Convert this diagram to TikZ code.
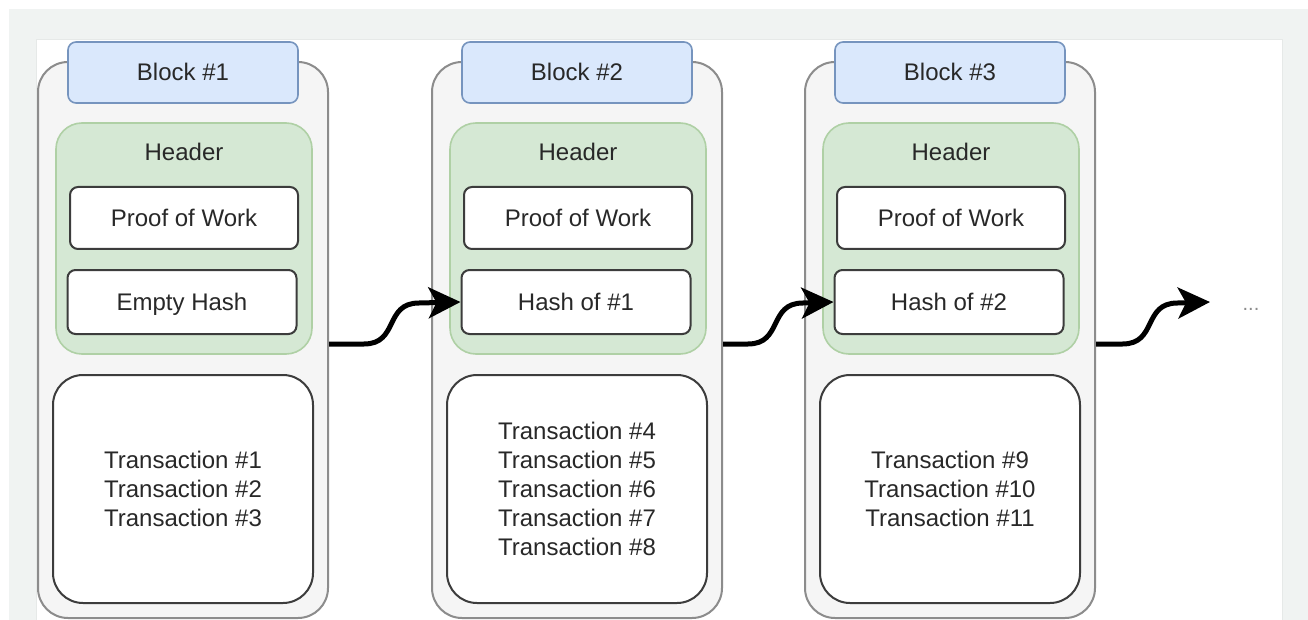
\documentclass[tikz,border=0pt]{standalone}
\usepackage{fontspec}
\setmainfont{Liberation Sans}
\usetikzlibrary{arrows.meta,calc}
\definecolor{bgg}{RGB}{240,243,242}
\definecolor{cardline}{RGB}{230,233,232}
\definecolor{outf}{RGB}{245,245,245}
\definecolor{outd}{RGB}{140,140,140}
\definecolor{blf}{RGB}{218,232,252}
\definecolor{bld}{RGB}{118,148,190}
\definecolor{grf}{RGB}{213,232,212}
\definecolor{grd}{RGB}{175,208,165}
\definecolor{txtc}{RGB}{40,40,40}
\definecolor{boxd}{RGB}{60,60,60}
\definecolor{dotc}{RGB}{140,140,140}
\tikzset{
  base/.style={font=\fontsize{24}{29}\selectfont, text=txtc, inner sep=0pt},
  oneline/.style={text height=17pt, text depth=0pt},
  outerbox/.style={base, draw=outd, fill=outf, line width=2pt, rounded corners=30pt},
  labelbox/.style={base, oneline, draw=bld, fill=blf, line width=1.6pt, rounded corners=8pt},
  headbox/.style={base, draw=grd, fill=grf, line width=1.6pt, rounded corners=26pt},
  fieldbox/.style={base, oneline, draw=boxd, fill=white, line width=2pt, rounded corners=8pt},
  txbox/.style={base, draw=boxd, fill=white, line width=2pt, rounded corners=30pt, align=center},
  plain/.style={base, oneline},
  arr/.style={line width=5pt, -{Stealth[length=32pt,width=31pt,inset=8pt]}},
}
\newcommand\drawblock[5]{%
  \node[outerbox, minimum width=290pt, minimum height=556pt] (o#2) at (#1+145,340) {};
  \node[headbox, minimum width=256pt, minimum height=231pt] (hb#2) at (#1+146,238.5) {};
  \node[labelbox, minimum width=230pt, minimum height=61pt] (l#2) at (#1+145,72.5) {#3};
  \node[plain] (ht#2) at (#1+146,152) {Header};
  \node[fieldbox, minimum width=228pt, minimum height=62pt] (p#2) at (#1+146,218) {Proof of Work};
  \node[fieldbox, minimum width=229pt, minimum height=64pt] (h#2) at (#1+144,302) {#4};
  \node[txbox, minimum width=260pt, minimum height=228pt] (t#2) at (#1+145,489) {#5};
}
\begin{document}
\begin{tikzpicture}[x=1pt,y=-1pt]
  \useasboundingbox (0,0) rectangle (1308,620);
  \fill[white] (0,0) rectangle (1308,620);
  \fill[bgg] (9,9) rectangle (1308,620);
  \filldraw[fill=white, draw=cardline, line width=1pt] (36,40) rectangle (1282,625);
  \drawblock{38}{1}{Block \#1}{Empty Hash}{Transaction \#1\\Transaction \#2\\Transaction \#3}
  \drawblock{432}{2}{Block \#2}{Hash of \#1}{Transaction \#4\\Transaction \#5\\Transaction \#6\\Transaction \#7\\Transaction \#8}
  \drawblock{805}{3}{Block \#3}{Hash of \#2}{Transaction \#9\\Transaction \#10\\Transaction \#11}
  \coordinate (e3) at (1210,302);
  \node[font=\fontsize{20}{24}\selectfont, text=dotc, inner sep=0pt] (dots) at (1251,309) {...};
  \draw[arr] ([yshift=-4pt]o1.east) -- (364,344) .. controls (399,344) and (384,303) .. (419,303) -- (h2.west);
  \draw[arr] ([yshift=-4pt]o2.east) -- (748,344) .. controls (783,344) and (768,303) .. (803,303) -- (h3.west);
  \draw[arr] ([yshift=-4pt]o3.east) -- (1122.5,344) .. controls (1157.5,344) and (1142.5,303) .. (1177.5,303) -- (e3);
\end{tikzpicture}
\end{document}
